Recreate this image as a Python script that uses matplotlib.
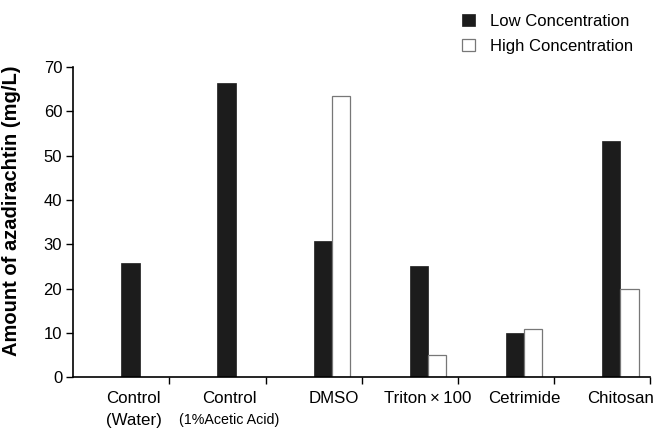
import matplotlib
matplotlib.use("Agg")
import matplotlib.pyplot as plt
import numpy as np

plt.rcParams["font.family"] = ["Liberation Sans", "DejaVu Sans"]

categories = ["Control", "Control", "DMSO", "Triton\u2009\u00d7\u2009100", "Cetrimide", "Chitosan"]
sub_labels = ["(Water)", "(1%Acetic Acid)", "", "", "", ""]
low_conc = [25.7, 66.4, 30.7, 25.1, 9.9, 53.4]
high_conc = [0, 0, 63.5, 5.0, 10.8, 20.0]

x = np.arange(len(categories))
w = 0.19

fig = plt.figure(figsize=(6.54, 4.30), dpi=100)
ax = fig.add_axes([0.112, 0.123, 0.882, 0.721])

ax.bar(x, low_conc, width=w, align="edge", color="#1c1c1c", edgecolor="#1c1c1c",
       linewidth=0.5, label="Low Concentration")
hi = [v if v > 0 else np.nan for v in high_conc]
ax.bar(x + w, hi, width=w, align="edge", color="white", edgecolor="#777777",
       linewidth=0.9, label="High Concentration")

ax.set_xlim(-0.5, 5.5)
ax.set_ylim(0, 70)
ax.set_yticks(range(0, 71, 10))
ax.tick_params(axis="y", labelsize=12, length=5, width=1, direction="out", pad=3)
ax.set_xticks(np.arange(0.5, 5.6, 1.0))
ax.set_xticklabels([])
ax.tick_params(axis="x", length=5, width=1, direction="out")

label_pos = [0.13, 0.12, 0.21, 0.19, 0.19, 0.19]
for i, (c, s) in enumerate(zip(categories, sub_labels)):
    ax.annotate(c, xy=(i + label_pos[i], 0), xycoords=("data", "axes fraction"),
                xytext=(0, -10), textcoords="offset points",
                ha="center", va="top", fontsize=12.2)
    if s:
        fs = 12.2 if i == 0 else 10.3
        ax.annotate(s, xy=(i + label_pos[i], 0), xycoords=("data", "axes fraction"),
                    xytext=(0, -25.5), textcoords="offset points",
                    ha="center", va="top", fontsize=fs)

ax.spines["top"].set_visible(False)
ax.spines["right"].set_visible(False)
ax.spines["left"].set_linewidth(1.2)
ax.spines["bottom"].set_linewidth(1.2)

ax.set_ylabel("Amount of azadirachtin (mg/L)", fontsize=14.5, fontweight="bold")
ax.yaxis.set_label_coords(-0.09, 0.535)

fig.legend(loc="upper left", bbox_to_anchor=(0.684, 1.003), frameon=False, fontsize=12,
           handlelength=0.75, handleheight=0.75, handletextpad=0.9, labelspacing=0.6)

fig.savefig("out.png", dpi=100)
